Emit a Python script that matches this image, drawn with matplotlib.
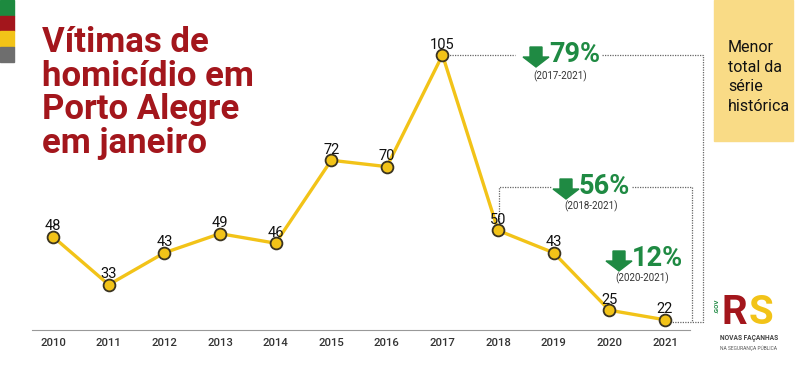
import matplotlib.pyplot as plt
from matplotlib.patches import Rectangle, Polygon
from matplotlib.transforms import Affine2D

anos = [2010, 2011, 2012, 2013, 2014, 2015, 2016, 2017, 2018, 2019, 2020, 2021]
vitimas = [48, 33, 43, 49, 46, 72, 70, 105, 50, 43, 25, 22]
quedas = ["79%", "56%", "12%"]
periodos = ["(2017-2021)", "(2018-2021)", "(2020-2021)"]

AMARELO = "#F2C318"
VERDE = "#1F8A43"
VERMELHO = "#A3161C"

plt.rcParams['font.family'] = ['Roboto', 'DejaVu Sans']

fig = plt.figure(figsize=(8, 3.67), dpi=100)
W, H = 800, 367
# transformação em pixels (origem no canto superior esquerdo)
px = Affine2D().scale(1 / W, -1 / H).translate(0, 1) + fig.transFigure

# faixas de cor à esquerda
for i, c in enumerate(["#1D8A3F", "#A3161C", "#F2C318", "#6E6E6E"]):
    fig.patches.append(Rectangle((0, i * 15.5), 14, 15.5, transform=px, color=c))

# caixa amarela à direita
fig.patches.append(Rectangle((714, 0), 79, 141, transform=px, color="#F9DB86"))
fig.text(728 / W, 1 - 77 / H, "Menor\ntotal da\nsérie\nhistórica", fontsize=11.5,
         color="#111111", va="center", ha="left", linespacing=1.4)

ax = fig.add_axes([32 / W, 1 - 330 / H, 658 / W, 320 / H])
ax.set_xlim(2009.62, 2021.45)
ax.set_ylim(18.8, 119.1)
ax.plot(anos, vitimas, color=AMARELO, lw=2.4, marker="o", ms=8.5,
        mfc=AMARELO, mec="#3A3320", mew=1.3, zorder=3, clip_on=False)
for a, v in zip(anos, vitimas):
    ax.annotate(str(v), (a, v), xytext=(0, 2.5), textcoords="offset points",
                ha="center", va="bottom", fontsize=10.5, color="#111111", zorder=4)

for s in ["top", "right", "left"]:
    ax.spines[s].set_visible(False)
ax.spines["bottom"].set_color("#999999")
ax.set_yticks([])
ax.set_xticks(anos)
ax.tick_params(axis="x", length=0, pad=6, labelsize=8.2, labelcolor="#333333")
for t in ax.get_xticklabels():
    t.set_fontweight(500)

# colchetes pontilhados (com espaço para os rótulos)
dot = dict(color="#666666", lw=0.9, ls=(0, (1, 1)), zorder=1, clip_on=False)
ax.plot([2017, 2018.31], [105, 105], **dot)
ax.plot([2019.87, 2021.69, 2021.69, 2021.13], [105, 105, 21.3, 21.3], **dot)
ax.plot([2018.02, 2018.02, 2018.97], [52, 63.6, 63.6], **dot)
ax.plot([2020.41, 2021.49, 2021.49], [63.6, 63.6, 21.3], **dot)


def seta(x, y):
    w, h, sw, hh = 26, 20, 12, 10
    pts = [(x - sw / 2, y - h / 2), (x + sw / 2, y - h / 2), (x + sw / 2, y - h / 2 + hh),
           (x + w / 2, y - h / 2 + hh), (x, y + h / 2), (x - w / 2, y - h / 2 + hh),
           (x - sw / 2, y - h / 2 + hh)]
    fig.patches.append(Polygon(pts, closed=True, transform=px, color=VERDE))


for (xa, ya, xt, xp, yp), q, p in zip([(536, 57, 549, 560, 76), (566, 189, 579, 591, 206),
                                        (619, 261, 632, 642, 278)], quedas, periodos):
    seta(xa, ya)
    fig.text(xt / W, 1 - (ya - 2) / H, q, fontsize=19.5,
             fontweight="bold", color=VERDE, ha="left", va="center")
    fig.text(xp / W, 1 - yp / H, p, fontsize=7, color="#333333", ha="center", va="center")

# título
fig.text(42 / W, 1 - 93 / H, "Vítimas de\nhomicídio em\nPorto Alegre\nem janeiro",
         fontsize=25, fontweight="bold", color=VERMELHO, ha="left", va="center",
         linespacing=1.02)

# logo (aproximação textual)
fig.text(722 / W, 1 - 313 / H, "R", fontsize=29, fontweight="bold", color=VERMELHO,
         ha="left", va="center")
fig.text(749 / W, 1 - 313 / H, "S", fontsize=29, fontweight="bold", color=AMARELO,
         ha="left", va="center")
fig.text(717 / W, 1 - 306 / H, ".GOV", fontsize=4.5, fontweight="bold", color=VERDE,
         rotation=90, ha="center", va="center")
fig.text(749 / W, 1 - 338 / H, "NOVAS FAÇANHAS", fontsize=4.8, fontweight="bold",
         color="#444444", ha="center", va="center")
fig.text(749 / W, 1 - 348 / H, "NA SEGURANÇA PÚBLICA", fontsize=3.5, color="#555555",
         ha="center", va="center")

fig.savefig("out.png", dpi=100)
